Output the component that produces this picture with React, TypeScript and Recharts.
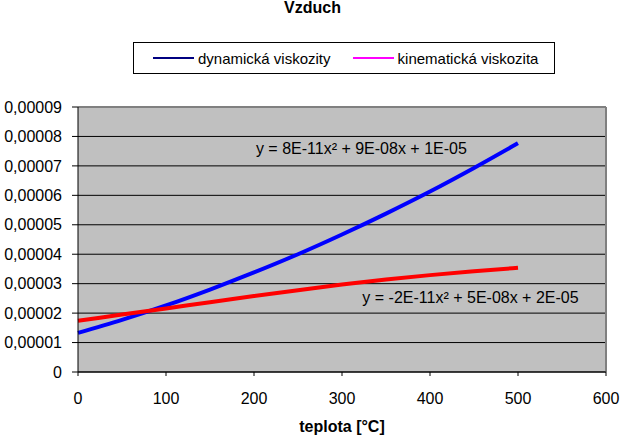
import { LineChart, Line, XAxis, YAxis, CartesianGrid, Legend, ReferenceDot, ReferenceLine } from 'recharts';

const teploty = [0, 50, 100, 150, 200, 250, 300, 350, 400, 450, 500];
// values (Pa·s resp. m²/s)
const dynamicka = [0.0000174, 0.0000195, 0.0000216, 0.0000237, 0.0000258, 0.0000278, 0.0000297, 0.0000314, 0.0000329, 0.0000342, 0.0000354];
const kinematicka = [0.0000133, 0.0000177, 0.0000226, 0.000028, 0.0000338, 0.00004, 0.0000467, 0.0000538, 0.0000613, 0.0000693, 0.0000777];

const xTicks = [0, 100, 200, 300, 400, 500, 600];
const yTicks = [0, 0.00001, 0.00002, 0.00003, 0.00004, 0.00005, 0.00006, 0.00007, 0.00008, 0.00009];

const legendItems = [
  { name: 'dynamická viskozity', color: '#000080' },
  { name: 'kinematická viskozita', color: '#FF00FF' },
];

const rovnice = [
  { text: 'y = 8E-11x² + 9E-08x + 1E-05', x: 322, y: 0.0000761 },
  { text: 'y = -2E-11x² + 5E-08x + 2E-05', x: 446, y: 0.0000255 },
];

const data = teploty.map((t, i) => ({ t, dyn: dynamicka[i], kin: kinematicka[i] }));

const FONT = '"Liberation Sans", Arial, sans-serif';

const formatY = (v: number) => (v === 0 ? '0' : v.toFixed(5).replace('.', ','));

function ExcelLegend() {
  return (
    <div
      style={{
        width: 420,
        height: 30,
        border: '1px solid #000',
        background: '#fff',
        display: 'flex',
        alignItems: 'center',
        fontSize: 15,
        fontFamily: FONT,
        color: '#000',
        whiteSpace: 'nowrap',
        boxSizing: 'content-box',
      }}
    >
      {legendItems.map((item, i) => (
        <div key={item.name} style={{ display: 'flex', alignItems: 'center', marginLeft: i === 0 ? 19 : 22, flexShrink: 0 }}>
          <span style={{ display: 'inline-block', width: 41, height: 2, background: item.color, marginRight: 4 }} />
          <span>{item.name}</span>
        </div>
      ))}
    </div>
  );
}

export default function App() {
  return (
    <div style={{ position: 'absolute', left: 0, top: 0, width: 623, height: 435, background: '#fff', fontFamily: FONT }}>
      <div
        style={{
          position: 'absolute',
          left: 0,
          width: 623,
          top: 0,
          lineHeight: '16px',
          textAlign: 'center',
          fontWeight: 'bold',
          fontSize: 16,
          paddingLeft: 2,
          boxSizing: 'border-box',
        }}
      >
        Vzduch
      </div>
      <LineChart width={623} height={435} data={data} margin={{ top: 107, right: 17, bottom: 0, left: 0 }} style={{ fontFamily: FONT }}>
        <CartesianGrid vertical={false} stroke="#000" fill="#C0C0C0" />
        <XAxis
          dataKey="t"
          type="number"
          domain={[0, 600]}
          ticks={xTicks}
          height={63}
          stroke="#000"
          tickSize={4}
          tickMargin={17}
          tick={{ fill: '#000', fontSize: 16 }}
          label={{ value: 'teplota [°C]', position: 'insideBottom', offset: 3, fill: '#000', fontSize: 16, fontWeight: 'bold' }}
        />
        <YAxis
          type="number"
          domain={[0, 0.00009]}
          ticks={yTicks}
          width={78}
          stroke="#000"
          tickSize={6}
          tickMargin={10}
          tickFormatter={formatY}
          tick={{ fill: '#000', fontSize: 16 }}
        />
        <ReferenceLine y={0.00009} stroke="#808080" strokeWidth={2} />
        <ReferenceLine x={600} stroke="#808080" strokeWidth={2} />
        <Legend
          verticalAlign="middle"
          align="center"
          layout="horizontal"
          wrapperStyle={{ top: 42, left: 133, width: 422, height: 32 }}
          content={() => <ExcelLegend />}
        />
        <Line dataKey="kin" name="kinematická viskozita" type="monotone" stroke="#0000FF" strokeWidth={4} dot={false} isAnimationActive={false} />
        <Line dataKey="dyn" name="dynamická viskozity" type="monotone" stroke="#FF0000" strokeWidth={4} dot={false} isAnimationActive={false} />
        {rovnice.map((r) => (
          <ReferenceDot
            key={r.text}
            x={r.x}
            y={r.y}
            r={0}
            fill="none"
            stroke="none"
            label={{ value: r.text, position: 'center', fill: '#000', fontSize: 16 }}
          />
        ))}
      </LineChart>
    </div>
  );
}
